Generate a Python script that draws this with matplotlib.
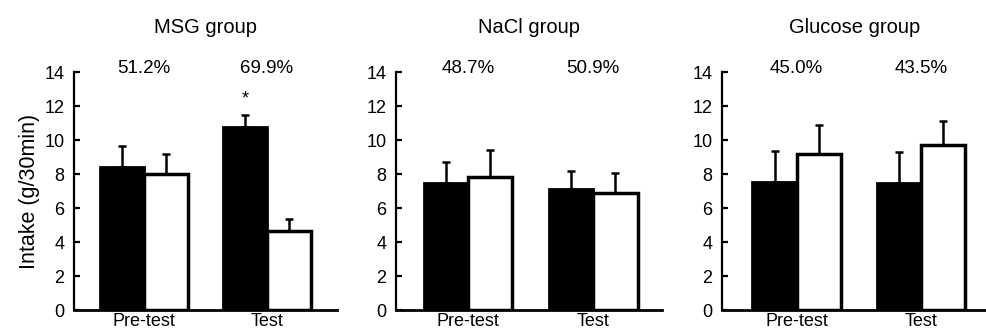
import numpy as np
import matplotlib.pyplot as plt

plt.rcParams['font.family'] = ['Liberation Sans', 'DejaVu Sans']

# Data (intake, g/30min)
groups = ["MSG group", "NaCl group", "Glucose group"]
phases = ["Pre-test", "Test"]
black_means = [[8.42, 10.75], [7.47, 7.14], [7.53, 7.47]]
black_err = [[1.21, 0.74], [1.26, 1.01], [1.84, 1.84]]
white_means = [[7.99, 4.66], [7.83, 6.86], [9.17, 9.72]]
white_err = [[1.19, 0.71], [1.60, 1.21], [1.70, 1.38]]
percents = [["51.2%", "69.9%"], ["48.7%", "50.9%"], ["45.0%", "43.5%"]]
stars = [["", "*"], ["", ""], ["", ""]]

fig = plt.figure(figsize=(9.87, 3.33), dpi=100)

lefts = [0.075, 0.4012, 0.7315]
widths = [0.2665, 0.2695, 0.2685]
xlims = [(-0.569, 1.569), (-0.576, 1.55), (-0.6, 1.53)]
bottom, height = 0.069, 0.7147
w = 0.355
x = np.arange(len(phases))

for i, g in enumerate(groups):
    ax = fig.add_axes([lefts[i], bottom, widths[i], height])
    ax.bar(x - w / 2, black_means[i], w, color='black', edgecolor='black', linewidth=2)
    ax.bar(x + w / 2, white_means[i], w, color='white', edgecolor='black', linewidth=2.5)
    ax.errorbar(x - w / 2, black_means[i], yerr=[np.zeros(2), black_err[i]],
                fmt='none', ecolor='black', elinewidth=1.8, capsize=3, capthick=1.8)
    ax.errorbar(x + w / 2, white_means[i], yerr=[np.zeros(2), white_err[i]],
                fmt='none', ecolor='black', elinewidth=1.8, capsize=3, capthick=1.8)
    for j in range(len(phases)):
        ax.text(x[j], 14.2, percents[i][j], ha='center', va='center', fontsize=13.5)
        if stars[i][j]:
            top = black_means[i][j] + black_err[i][j]
            ax.text(x[j] - w / 2, top + 0.95, stars[i][j], ha='center', va='center', fontsize=13)
    ax.set_xlim(*xlims[i])
    ax.set_ylim(0, 14)
    ax.set_yticks(range(0, 15, 2))
    ax.set_xticks(x)
    ax.set_xticklabels(phases)
    ax.spines['top'].set_visible(False)
    ax.spines['right'].set_visible(False)
    ax.spines['left'].set_linewidth(1.6)
    ax.spines['bottom'].set_linewidth(2)
    ax.tick_params(axis='y', direction='in', length=4, width=1.6, labelsize=13, pad=7)
    ax.tick_params(axis='x', length=0, labelsize=13, pad=2)
    ax.set_title(g, fontsize=14.5, pad=28)
    if i == 0:
        ax.set_ylabel("Intake (g/30min)", fontsize=15.5, labelpad=3)

fig.savefig("out.png", dpi=100)
